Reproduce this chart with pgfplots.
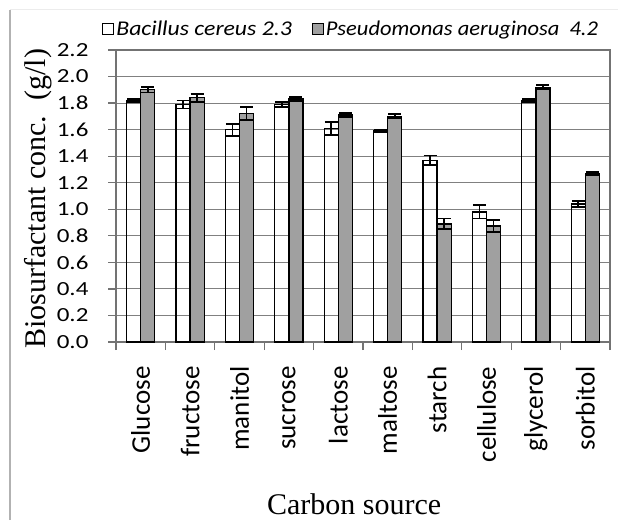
\documentclass[border=0pt]{standalone}
\usepackage{fontspec}
\usepackage{graphicx}
\usepackage{pgfplots}
\usepackage{pgfplotstable}
\pgfplotsset{compat=1.18}
\setmainfont{Liberation Serif}
\newfontfamily\carl{Carlito}
\newcommand\sx[1]{\scalebox{1.25}[1]{#1}}
\definecolor{barg}{RGB}{160,160,160}
\pgfplotstableread{
x    b     be     p     pe
0.5  1.82  0.010  1.90  0.020
1.5  1.79  0.030  1.84  0.030
2.5  1.60  0.045  1.72  0.050
3.5  1.79  0.020  1.83  0.015
4.5  1.61  0.050  1.71  0.015
5.5  1.59  0.010  1.70  0.015
6.5  1.37  0.035  0.89  0.040
7.5  0.98  0.050  0.875 0.045
8.5  1.82  0.010  1.92  0.015
9.5  1.04  0.020  1.27  0.010
}\data
\begin{document}
\begin{tikzpicture}[x=1pt,y=1pt]
\useasboundingbox (0,0) rectangle (618,520);
\draw[gray!60, line width=2pt] (10,0) -- (10,510);
\draw[gray!15, line width=1pt] (10,510) -- (618,510);
\begin{axis}[
  at={(116pt,178pt)}, anchor=south west,
  scale only axis, width=494pt, height=292pt,
  xmin=0, xmax=10, ymin=0, ymax=2.2,
  ybar,
  axis line style={black!55, line width=1.2pt},
  tick align=outside, major tick length=8pt,
  tick style={black!55, line width=1.2pt},
  xtick pos=bottom, ytick pos=left,
  xtick={0,1,...,10},
  x tick label as interval,
  xticklabels={Glucose,fructose,manitol,sucrose,lactose,maltose,starch,cellulose,glycerol,sorbitol},
  xticklabel style={rotate=90, anchor=east, font=\carl\fontsize{27}{27}\selectfont, xshift=-13pt},
  ytick={0,0.2,0.4,0.6,0.8,1.0,1.2,1.4,1.6,1.8,2.0,2.2},
  yticklabels={\sx{0.0},\sx{0.2},\sx{0.4},\sx{0.6},\sx{0.8},\sx{1.0},\sx{1.2},\sx{1.4},\sx{1.6},\sx{1.8},\sx{2.0},\sx{2.2}},
  yticklabel style={font=\carl\fontsize{20}{20}\selectfont, anchor=east, xshift=-16pt},
  ymajorgrids,
  grid style={black!50, line width=1.1pt},
  ylabel={Biosurfactant conc.\ \ (g/l)},
  ylabel style={font=\fontsize{30}{30}\selectfont, at={(axis description cs:-0.158,0.49)}, anchor=center},
  xlabel={Carbon source},
  xlabel style={font=\fontsize{30}{30}\selectfont, at={(axis description cs:0.482,-0.555)}, anchor=center},
  legend columns=2,
  legend style={at={(axis description cs:-0.028,1.072)}, anchor=west, draw=none, fill=none, inner sep=0pt,
    font=\carl\itshape\fontsize{21}{21}\selectfont,
    /tikz/every even column/.append style={column sep=18pt}},
  legend image code/.code={\draw[#1,/tikz/.cd, line width=1pt, draw=black] (0pt,-5.5pt) rectangle (11pt,5.5pt);},
]
\addplot[bar width=0.285, bar shift=-0.1425, draw=black, line width=1.3pt, fill=none,
  error bars/.cd, y dir=both, y explicit,
  error bar style={line width=1.8pt, black},
  error mark options={rotate=90, mark size=6.5pt, line width=1.8pt, black}]
  table[x=x, y=b, y error=be] {\data};
\addlegendentry{\scalebox{1.13}[1]{Bacillus cereus 2.3}}
\addplot[bar width=0.285, bar shift=0.1425, draw=black, line width=1.3pt, fill=barg,
  error bars/.cd, y dir=both, y explicit,
  error bar style={line width=1.8pt, black},
  error mark options={rotate=90, mark size=6.5pt, line width=1.8pt, black}]
  table[x=x, y=p, y error=pe] {\data};
\addlegendentry{\scalebox{1.07}[1]{Pseudomonas aeruginosa\ \ 4.2}}
\end{axis}
\end{tikzpicture}
\end{document}
